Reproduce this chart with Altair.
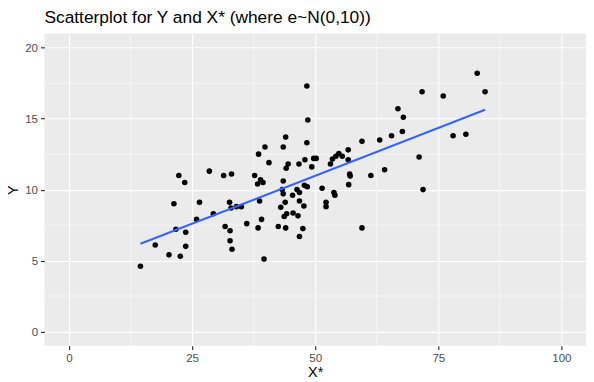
import altair as alt
import pandas as pd

x_vals = [14.5, 17.5, 20.3, 21.3, 21.7, 22.3, 22.6, 23.5, 23.7, 23.7,
          25.9, 26.5, 28.5, 29.3, 31.4, 31.7, 32.6, 32.7, 32.7, 32.9,
          33.0, 33.1, 34.0, 35.0, 36.1, 37.7, 38.4, 38.3, 38.5, 38.7,
          38.9, 39.1, 39.4, 39.6, 39.8, 40.6, 42.5, 43.0, 43.3, 43.5,
          43.5, 43.5, 43.7, 43.9, 44.0, 44.0, 44.1, 44.2, 44.5, 45.4,
          45.5, 46.3, 46.5, 46.7, 46.8, 46.8, 46.8, 47.5, 47.7, 47.8,
          47.9, 48.3, 48.3, 48.4, 48.5, 49.3, 49.7, 50.2, 51.4, 52.2,
          52.2, 53.1, 53.5, 53.8, 54.0, 54.2, 54.8, 55.5, 56.7, 56.7,
          56.8, 57.0, 57.1, 59.5, 59.5, 61.3, 63.1, 64.1, 65.5, 66.8,
          67.7, 67.9, 71.1, 71.7, 71.9, 76.0, 78.0, 80.6, 82.9, 84.5]
y_vals = [4.6, 6.1, 5.4, 9.0, 7.2, 11.0, 5.3, 10.5, 7.0, 6.0,
          7.9, 9.1, 11.3, 8.3, 11.0, 7.4, 9.1, 7.1, 6.4, 8.7,
          11.1, 5.8, 8.8, 8.8, 7.6, 11.0, 7.3, 10.4, 12.5, 9.2,
          10.7, 7.9, 10.5, 5.1, 13.0, 11.9, 7.4, 8.75, 10.0, 9.7,
          10.6, 13.0, 8.1, 9.1, 13.7, 7.3, 11.5, 8.3, 11.8, 9.6,
          8.35, 10.0, 8.15, 11.8, 9.8, 9.2, 6.7, 7.25, 8.85, 10.3,
          12.1, 17.3, 13.3, 10.2, 14.9, 11.6, 12.2, 12.2, 10.1, 9.1,
          8.8, 11.8, 12.15, 9.8, 9.6, 12.35, 12.55, 12.35, 12.8, 12.1,
          10.35, 11.1, 10.95, 13.4, 7.3, 11.0, 13.5, 11.4, 13.8, 15.7,
          14.1, 15.1, 12.3, 16.9, 10.0, 16.6, 13.8, 13.9, 18.2, 16.9]

x_major = [0, 25, 50, 75, 100]
x_minor = [12.5, 37.5, 62.5, 87.5]
y_major = [0, 5, 10, 15, 20]
y_minor = [2.5, 7.5, 12.5, 17.5]

df = pd.DataFrame({"x": x_vals, "y": y_vals})

FONT = "Liberation Sans"
xs = alt.Scale(domain=[-5, 105], nice=False, zero=False)
ys = alt.Scale(domain=[-1, 21], nice=False, zero=False)

axis_common = dict(
    grid=True, gridColor="#FFFFFF", gridWidth=1.1, gridOpacity=1, domain=False,
    ticks=True, tickColor="#333333", tickWidth=1.2, tickSize=4, tickOpacity=1,
    labelFont=FONT, labelFontSize=11.7, labelColor="#4D4D4D", labelPadding=3,
    titleFont=FONT, titleFontSize=14.7, titleColor="black", titleFontWeight="normal",
)
x_axis = alt.Axis(values=x_major, title="X*", titleBaseline="alphabetic",
                  titleY=31, **axis_common)
y_axis = alt.Axis(values=y_major, title="Y", titleBaseline="middle",
                  titleX=-31, **axis_common)

minor_x = alt.Chart(pd.DataFrame({"x": x_minor})).mark_rule(
    color="white", strokeWidth=0.55
).encode(x=alt.X("x:Q", scale=xs, axis=x_axis))

minor_y = alt.Chart(pd.DataFrame({"y": y_minor})).mark_rule(
    color="white", strokeWidth=0.55
).encode(y=alt.Y("y:Q", scale=ys, axis=y_axis))

points = alt.Chart(df).mark_circle(color="black", opacity=1, size=32).encode(
    x=alt.X("x:Q", scale=xs, axis=x_axis),
    y=alt.Y("y:Q", scale=ys, axis=y_axis),
)

line = alt.Chart(df).transform_regression("x", "y").mark_line(
    color="#3366FF", strokeWidth=2.1
).encode(
    x=alt.X("x:Q", scale=xs, axis=x_axis),
    y=alt.Y("y:Q", scale=ys, axis=y_axis),
)

chart = alt.layer(minor_x, minor_y, points, line).properties(
    width=550,
    height=317,
    autosize=alt.AutoSizeParams(type="none"),
    padding={"left": 37, "top": 23, "right": 0, "bottom": 36},
    background="white",
    title=alt.TitleParams(
        "Scatterplot for Y and X* (where e~N(0,10))",
        anchor="start", frame="group", font=FONT, fontSize=17.6,
        fontWeight="normal", color="black", baseline="alphabetic",
        offset=10, dy=17,
    ),
).configure_view(fill="#EBEBEB", strokeWidth=0).configure_axis(
    ticks=True, tickColor="#333333", tickSize=4, tickWidth=1.2
)

chart.save("out.html", embed_options={"renderer": "svg", "actions": False})
